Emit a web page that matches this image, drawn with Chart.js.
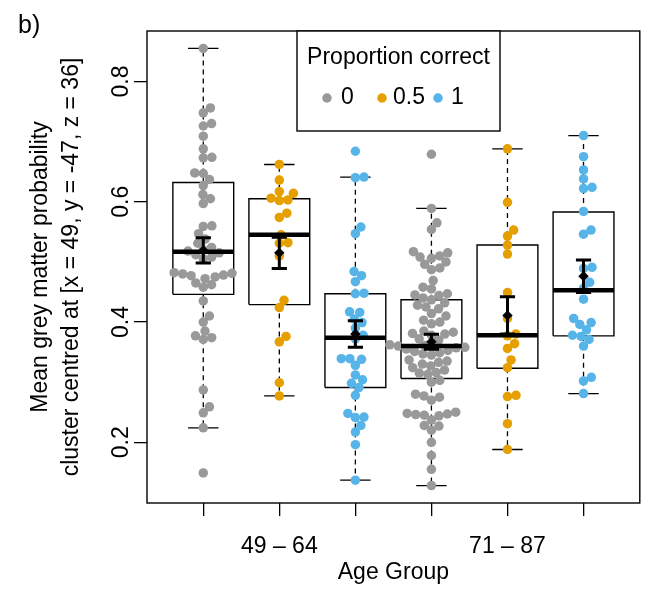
<!DOCTYPE html>
<html><head><meta charset="utf-8">
<script src="https://cdn.jsdelivr.net/npm/chart.js@4.4.1/dist/chart.umd.min.js"></script>
<style>html,body{margin:0;padding:0;background:#fff;}canvas{display:block;}</style>
</head><body>
<canvas id="c" width="645" height="592"></canvas>
<script>
// ---------- data ----------
const ageGroups = ['49 – 64', '71 – 87'];
const accuracyLevels = ['0', '0.5', '1'];
const levelColors = ['#999999', '#E69F00', '#56B4E9'];
const xTickLabels = ['', '49 – 64', '', '', '71 – 87', ''];
const yTickValues = [0.2, 0.4, 0.6, 0.8];
const yTickLabels = ['0.2', '0.4', '0.6', '0.8'];

const young0 = [0.855, 0.756, 0.748, 0.730, 0.726, 0.709, 0.688, 0.674, 0.673, 0.648, 0.647, 0.637, 0.627, 0.612, 0.605, 0.597, 0.560, 0.559, 0.547, 0.538, 0.531, 0.524, 0.520, 0.518, 0.515, 0.512, 0.508, 0.505, 0.482, 0.481, 0.480, 0.478, 0.477, 0.475, 0.472, 0.465, 0.462, 0.458, 0.435, 0.410, 0.400, 0.385, 0.377, 0.374, 0.371, 0.287, 0.259, 0.249, 0.224, 0.149];
const young05 = [0.662, 0.636, 0.617, 0.614, 0.606, 0.603, 0.602, 0.581, 0.574, 0.545, 0.532, 0.531, 0.510, 0.436, 0.424, 0.376, 0.367, 0.299, 0.277];
const young1 = [0.684, 0.641, 0.640, 0.558, 0.547, 0.484, 0.477, 0.467, 0.448, 0.447, 0.417, 0.416, 0.405, 0.399, 0.390, 0.378, 0.372, 0.339, 0.339, 0.338, 0.328, 0.312, 0.304, 0.298, 0.291, 0.278, 0.248, 0.242, 0.241, 0.228, 0.217, 0.196, 0.137];
const old0 = [0.679, 0.589, 0.565, 0.554, 0.517, 0.515, 0.510, 0.508, 0.506, 0.500, 0.496, 0.490, 0.487, 0.469, 0.458, 0.455, 0.447, 0.445, 0.444, 0.440, 0.437, 0.432, 0.428, 0.425, 0.422, 0.414, 0.410, 0.403, 0.400, 0.397, 0.385, 0.383, 0.381, 0.380, 0.378, 0.372, 0.370, 0.362, 0.361, 0.360, 0.359, 0.358, 0.357, 0.355, 0.353, 0.351, 0.349, 0.347, 0.345, 0.337, 0.335, 0.333, 0.330, 0.327, 0.324, 0.320, 0.316, 0.315, 0.313, 0.303, 0.300, 0.280, 0.277, 0.275, 0.270, 0.250, 0.248, 0.247, 0.246, 0.245, 0.244, 0.237, 0.228, 0.227, 0.220, 0.200, 0.178, 0.155, 0.128];
const old05 = [0.688, 0.599, 0.553, 0.543, 0.528, 0.513, 0.449, 0.406, 0.380, 0.377, 0.364, 0.356, 0.337, 0.324, 0.278, 0.276, 0.231, 0.188];
const old1 = [0.710, 0.675, 0.653, 0.638, 0.624, 0.622, 0.584, 0.553, 0.546, 0.491, 0.489, 0.466, 0.456, 0.438, 0.406, 0.399, 0.396, 0.387, 0.378, 0.376, 0.371, 0.360, 0.308, 0.302, 0.281];

// box statistics (one per group)
const whiskerLow  = [0.224, 0.277, 0.137, 0.128, 0.188, 0.281];
const lowerHinge  = [0.446, 0.429, 0.291, 0.306, 0.323, 0.377];
const medians     = [0.517, 0.545, 0.374, 0.360, 0.378, 0.453];
const upperHinge  = [0.632, 0.605, 0.447, 0.437, 0.528, 0.583];
const whiskerHigh = [0.855, 0.662, 0.641, 0.589, 0.688, 0.710];
const means       = [0.519, 0.515, 0.380, 0.367, 0.411, 0.476];
const stdErrors   = [0.021, 0.026, 0.022, 0.0125, 0.031, 0.027];

const groupValues = [young0, young05, young1, old0, old05, old1];

// ---------- styling ----------
const FONT = '"Liberation Sans", Arial, Helvetica, sans-serif';
Chart.defaults.font.family = FONT;
Chart.defaults.color = '#000';
const BOX_HALF = 0.4, CAP_HALF = 0.2, ERR_HALF = 0.1;
const DOT_R = 4.75, SWARM_D = 8.6;

function segData(segs) {
  const out = [];
  segs.forEach(s => { s.forEach(p => out.push({x: p[0], y: p[1]})); out.push({x: s[0][0], y: null}); });
  return out;
}
const gx = i => i + 1;

const boxSegs = [], whiskSegs = [], capSegs = [], medSegs = [], errSegs = [];
groupValues.forEach((v, i) => {
  const x = gx(i);
  boxSegs.push([[x - BOX_HALF, lowerHinge[i]], [x + BOX_HALF, lowerHinge[i]], [x + BOX_HALF, upperHinge[i]], [x - BOX_HALF, upperHinge[i]], [x - BOX_HALF, lowerHinge[i]]]);
  whiskSegs.push([[x, upperHinge[i]], [x, whiskerHigh[i]]]);
  whiskSegs.push([[x, lowerHinge[i]], [x, whiskerLow[i]]]);
  capSegs.push([[x - CAP_HALF, whiskerHigh[i]], [x + CAP_HALF, whiskerHigh[i]]]);
  capSegs.push([[x - CAP_HALF, whiskerLow[i]], [x + CAP_HALF, whiskerLow[i]]]);
  medSegs.push([[x - BOX_HALF, medians[i]], [x + BOX_HALF, medians[i]]]);
  const lo = means[i] - stdErrors[i], hi = means[i] + stdErrors[i];
  errSegs.push([[x, lo], [x, hi]]);
  errSegs.push([[x - ERR_HALF, lo], [x + ERR_HALF, lo]]);
  errSegs.push([[x - ERR_HALF, hi], [x + ERR_HALF, hi]]);
});

const lineDS = (data, width, order, dash) => ({
  type: 'scatter', data, showLine: true, spanGaps: false, pointRadius: 0,
  borderColor: '#000', backgroundColor: '#000', borderWidth: width, borderDash: dash || [],
  fill: false, tension: 0, order, borderCapStyle: 'butt'
});

const datasets = [
  lineDS(segData(boxSegs), 1.4, 10),
  lineDS(segData(whiskSegs), 1.3, 10, [5, 4]),
  lineDS(segData(capSegs), 1.3, 10),
];
const pointDsStart = datasets.length;
groupValues.forEach((vals, i) => {
  datasets.push({
    type: 'scatter', data: vals.map(v => ({x: gx(i), y: v})),
    pointRadius: DOT_R, pointBorderWidth: 0, pointBackgroundColor: levelColors[i % 3],
    backgroundColor: levelColors[i % 3], borderColor: levelColors[i % 3], showLine: false, order: 5
  });
});
datasets.push(lineDS(segData(medSegs), 4.5, 3));
datasets.push(lineDS(segData(errSegs), 3, 2));
datasets.push({
  type: 'scatter', data: means.map((m, i) => ({x: gx(i), y: m})),
  pointStyle: 'rectRot', pointRadius: 5.2, pointBorderWidth: 0,
  pointBackgroundColor: '#000', backgroundColor: '#000', order: 1
});

const decor = {
  id: 'decor',
  afterDraw(chart) {
    const {ctx, chartArea: a} = chart;
    ctx.save();
    ctx.strokeStyle = '#000'; ctx.lineWidth = 1.4;
    ctx.strokeRect(a.left, a.top, a.right - a.left, a.bottom - a.top);
    // legend
    const L = 297, T = a.top, R = 500, B = 131;
    ctx.fillStyle = '#fff'; ctx.fillRect(L, T, R - L, B - T);
    ctx.strokeRect(L, T, R - L, B - T);
    ctx.fillStyle = '#000';
    ctx.font = '23px ' + FONT;
    ctx.textAlign = 'center'; ctx.textBaseline = 'middle';
    ctx.fillText('Proportion correct', (L + R) / 2, 58);
    const dotX = [327, 382, 438], labX = [341, 393, 451];
    accuracyLevels.forEach((lab, k) => {
      ctx.fillStyle = levelColors[k];
      ctx.beginPath(); ctx.arc(dotX[k], 98, DOT_R, 0, Math.PI * 2); ctx.fill();
      ctx.fillStyle = '#000'; ctx.textAlign = 'left';
      ctx.fillText(lab, labX[k], 98);
    });
    // panel label
    ctx.font = '25px ' + FONT; ctx.textAlign = 'left'; ctx.textBaseline = 'alphabetic';
    ctx.fillText('b)', 18, 33);
    ctx.restore();
  }
};

const tickGrid = {display: true, drawOnChartArea: false, drawTicks: true, tickLength: 13, color: '#000', lineWidth: 1.3};

const chart = new Chart(document.getElementById('c').getContext('2d'), {
  type: 'scatter',
  data: {datasets},
  options: {
    responsive: false, animation: false, devicePixelRatio: 1, events: [],
    layout: {padding: {top: 31, right: 2, left: 0, bottom: 0}},
    plugins: {legend: {display: false}, tooltip: {enabled: false}, title: {display: false}},
    scales: {
      x: {
        type: 'linear', min: 0.26, max: 6.74, position: 'bottom',
        afterBuildTicks: s => { s.ticks = xTickLabels.map((_, i) => ({value: i + 1})); },
        afterFit: s => { s.height = 89; },
        grid: tickGrid, border: {display: false},
        ticks: {autoSkip: false, maxRotation: 0, minRotation: 0, padding: 17, color: '#000', font: {size: 23},
          callback: v => xTickLabels[Math.round(v) - 1]},
        title: {display: true, text: 'Age Group', color: '#000', font: {size: 23}, padding: {top: 0, bottom: 6}}
      },
      y: {
        type: 'linear', min: 0.099, max: 0.884, position: 'left',
        afterBuildTicks: s => { s.ticks = yTickValues.map(v => ({value: v})); },
        afterFit: s => { s.width = 147; },
        grid: tickGrid, border: {display: false},
        ticks: {minRotation: 90, maxRotation: 90, crossAlign: 'center', padding: -4, color: '#000', font: {size: 23},
          callback: (v, i) => yTickLabels[i]},
        title: {display: true, text: ['Mean grey matter probability', 'cluster centred at [x = 49, y = -47, z = 36]'],
          color: '#000', font: {size: 23, lineHeight: 1.35}, padding: {top: 25, bottom: 0}}
      }
    }
  },
  plugins: [decor]
});

// beeswarm ("swarm", ascending priority) layout computed in pixel space
function swarm(vals, py, d) {
  const idx = vals.map((v, i) => i).sort((a, b) => vals[a] - vals[b]);
  const placed = [], off = new Array(vals.length).fill(0);
  idx.forEach(i => {
    const y = py[i];
    const cands = [0];
    placed.forEach(p => {
      const dy = Math.abs(p.y - y);
      if (dy < d) { const dx = Math.sqrt(d * d - dy * dy); cands.push(p.x + dx, p.x - dx); }
    });
    let best = null;
    cands.forEach(c => {
      const ok = placed.every(p => (c - p.x) ** 2 + (y - p.y) ** 2 >= d * d - 1e-6);
      if (ok && (best === null || Math.abs(c) < Math.abs(best) - 1e-9)) best = c;
    });
    if (best === null) best = 0;
    off[i] = best; placed.push({x: best, y});
  });
  return off;
}
(function applySwarm() {
  const xs = chart.scales.x, ys = chart.scales.y;
  const unit = xs.getPixelForValue(1) - xs.getPixelForValue(0);
  groupValues.forEach((vals, g) => {
    const py = vals.map(v => ys.getPixelForValue(v));
    const offs = swarm(vals, py, SWARM_D);
    chart.data.datasets[pointDsStart + g].data = vals.map((v, k) => ({x: gx(g) + offs[k] / unit, y: v}));
  });
  chart.update('none');
})();
</script>
</body></html>
